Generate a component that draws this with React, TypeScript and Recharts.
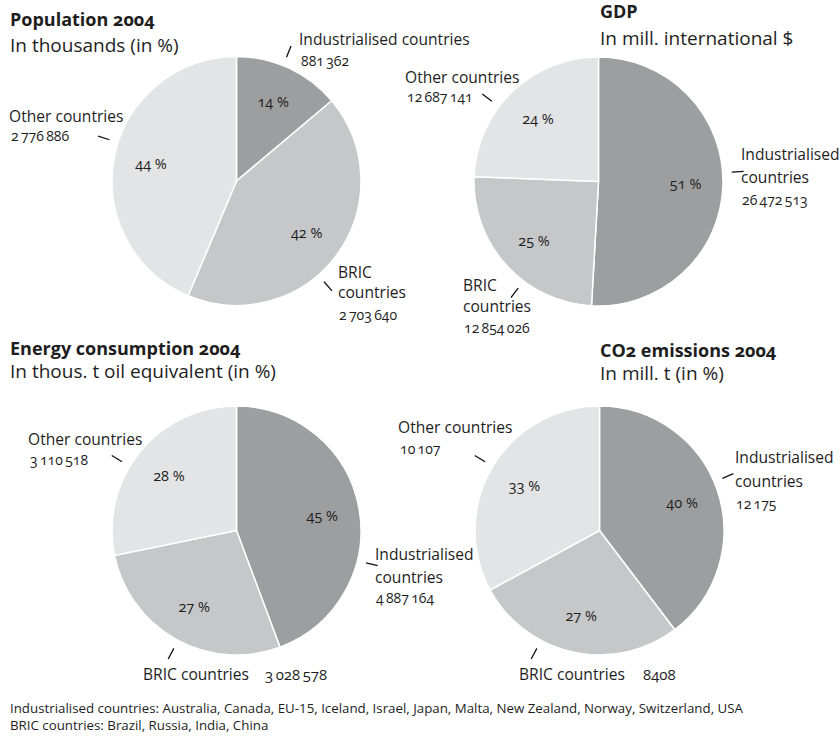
import React from 'react';
import { PieChart, Pie, Cell } from 'recharts';

const categories = ['Industrialised countries', 'BRIC countries', 'Other countries'];

const populationValues = [881362, 2703640, 2776886];
const gdpValues = [26472513, 12854026, 12687141];
const energyValues = [4887164, 3028578, 3110518];
const co2Values = [12175, 8408, 10107];

const populationShares = ['14 %', '42 %', '44 %'];
const gdpShares = ['51 %', '25 %', '24 %'];
const energyShares = ['45 %', '27 %', '28 %'];
const co2Shares = ['40 %', '27 %', '33 %'];

const footnotes = [
  'Industrialised countries: Australia, Canada, EU-15, Iceland, Israel, Japan, Malta, New Zealand, Norway, Switzerland, USA',
  'BRIC countries: Brazil, Russia, India, China',
];

const sliceColors = ['#9d9ea0', '#c6c7c9', '#e3e4e6'];
const FONT = '"Open Sans", "Noto Sans", sans-serif';
const TEXT = '#1e1e1e';
const RADIUS = 124.5;
const RAD = Math.PI / 180;
const LABEL_SIZE = 15.6;

// group big numbers with a thin space, like 2 776 886
const fmt = (v: number) =>
  v >= 10000 ? String(v).replace(/\B(?=(\d{3})+(?!\d))/g, '\u2009') : String(v);

type Spot = { x: number; ys: number[]; mode: 'stack1' | 'stack2' | 'inline'; numX?: number };

const pies = [
  {
    id: 'pop', values: populationValues, shares: populationShares, cx: 236.5, cy: 181,
    title: 'Population 2004', subtitle: 'In thousands (in %)', tx: 10, ty: [26, 52],
    ticks: [22, 139, 288],
    spots: [
      { x: 299, ys: [45, 66], mode: 'stack1' },
      { x: 338, ys: [278, 298, 320], mode: 'stack2' },
      { x: 9, ys: [122, 141], mode: 'stack1' },
    ] as Spot[],
  },
  {
    id: 'gdp', values: gdpValues, shares: gdpShares, cx: 598.5, cy: 181.5,
    title: 'GDP', subtitle: 'In mill. international $', tx: 600, ty: [18, 45],
    ticks: [86, 217, 307],
    spots: [
      { x: 741, ys: [160, 183, 205], mode: 'stack2' },
      { x: 463, ys: [291, 312, 333], mode: 'stack2' },
      { x: 405, ys: [83, 102], mode: 'stack1' },
    ] as Spot[],
  },
  {
    id: 'energy', values: energyValues, shares: energyShares, cx: 236.5, cy: 530.5,
    title: 'Energy consumption 2004', subtitle: 'In thous. t oil equivalent (in %)', tx: 10, ty: [355, 378],
    ticks: [104, 208, 301],
    spots: [
      { x: 375, ys: [560, 583, 603], mode: 'stack2' },
      { x: 143, ys: [680], mode: 'inline', numX: 265 },
      { x: 28, ys: [445, 465], mode: 'stack1' },
    ] as Spot[],
  },
  {
    id: 'co2', values: co2Values, shares: co2Shares, cx: 599.5, cy: 530.5,
    title: 'CO2 emissions 2004', subtitle: 'In mill. t (in %)', tx: 600, ty: [357, 380],
    ticks: [67, 208, 301],
    spots: [
      { x: 735, ys: [463, 487, 509], mode: 'stack2' },
      { x: 519, ys: [680], mode: 'inline', numX: 643 },
      { x: 398, ys: [433, 454], mode: 'stack1' },
    ] as Spot[],
  },
];

const numStyle = { fontVariantNumeric: 'oldstyle-nums' } as React.CSSProperties;

const makeLabel = (shares: string[], ticks: number[]) => (props: any) => {
  const { cx, cy, midAngle, outerRadius, index } = props;
  const r = outerRadius * 0.7;
  const x = cx + r * Math.cos(-midAngle * RAD);
  const y = cy + r * Math.sin(-midAngle * RAD);
  const t = ticks[index] * RAD;
  const r1 = outerRadius + 9;
  const r2 = outerRadius + 21;
  return (
    <g key={`lab-${index}`}>
      <text x={x} y={y} textAnchor="middle" dominantBaseline="central" fontSize={14.5}
        fontFamily={FONT} fill={TEXT} style={numStyle}>
        {shares[index]}
      </text>
      <line x1={cx + r1 * Math.sin(t)} y1={cy - r1 * Math.cos(t)}
        x2={cx + r2 * Math.sin(t)} y2={cy - r2 * Math.cos(t)} stroke="#111" strokeWidth={1.3} />
    </g>
  );
};

const OuterLabel = ({ spot, name, value }: { spot: Spot; name: string; value: number }) => {
  const num = fmt(value);
  if (spot.mode === 'inline') {
    return (
      <g>
        <text x={spot.x} y={spot.ys[0]} fontSize={LABEL_SIZE}>{name}</text>
        <text x={spot.numX} y={spot.ys[0]} fontSize={15} style={numStyle}>{num}</text>
      </g>
    );
  }
  if (spot.mode === 'stack1') {
    return (
      <g>
        <text x={spot.x} y={spot.ys[0]} fontSize={LABEL_SIZE}>{name}</text>
        <text x={spot.x + 2} y={spot.ys[1]} fontSize={14} style={numStyle}>{num}</text>
      </g>
    );
  }
  const cut = name.indexOf(' ');
  return (
    <g>
      <text x={spot.x} y={spot.ys[0]} fontSize={LABEL_SIZE}>{name.slice(0, cut)}</text>
      <text x={spot.x} y={spot.ys[1]} fontSize={LABEL_SIZE}>{name.slice(cut + 1)}</text>
      <text x={spot.x + 1} y={spot.ys[2]} fontSize={14} style={numStyle}>{num}</text>
    </g>
  );
};

export default function App() {
  return (
    <div style={{ position: 'absolute', left: 0, top: 0, width: 840, height: 738, background: '#fff' }}>
      <PieChart width={840} height={738} margin={{ top: 0, right: 0, bottom: 0, left: 0 }}>
        {pies.map((p) => (
          <Pie
            key={p.id}
            data={p.values.map((v, i) => ({ name: categories[i], value: v }))}
            dataKey="value"
            nameKey="name"
            cx={p.cx}
            cy={p.cy}
            outerRadius={RADIUS}
            startAngle={90}
            endAngle={-270}
            stroke="#ffffff"
            strokeWidth={1.5}
            label={makeLabel(p.shares, p.ticks)}
            labelLine={false}
            isAnimationActive={false}
          >
            {p.values.map((_, i) => (
              <Cell key={i} fill={sliceColors[i]} />
            ))}
          </Pie>
        ))}
      </PieChart>
      <svg width={840} height={738} style={{ position: 'absolute', left: 0, top: 0, pointerEvents: 'none' }}
        fontFamily={FONT} fill={TEXT}>
        {pies.map((p) => (
          <g key={p.id}>
            <text x={p.tx} y={p.ty[0]} fontSize={18} fontWeight={700} style={numStyle}>{p.title}</text>
            <text x={p.tx} y={p.ty[1]} fontSize={19}>{p.subtitle}</text>
            {p.spots.map((s, i) => (
              <OuterLabel key={i} spot={s} name={categories[i]} value={p.values[i]} />
            ))}
          </g>
        ))}
        {footnotes.map((f, i) => (
          <text key={i} x={10} y={713 + i * 17} fontSize={13.3}>{f}</text>
        ))}
      </svg>
    </div>
  );
}
